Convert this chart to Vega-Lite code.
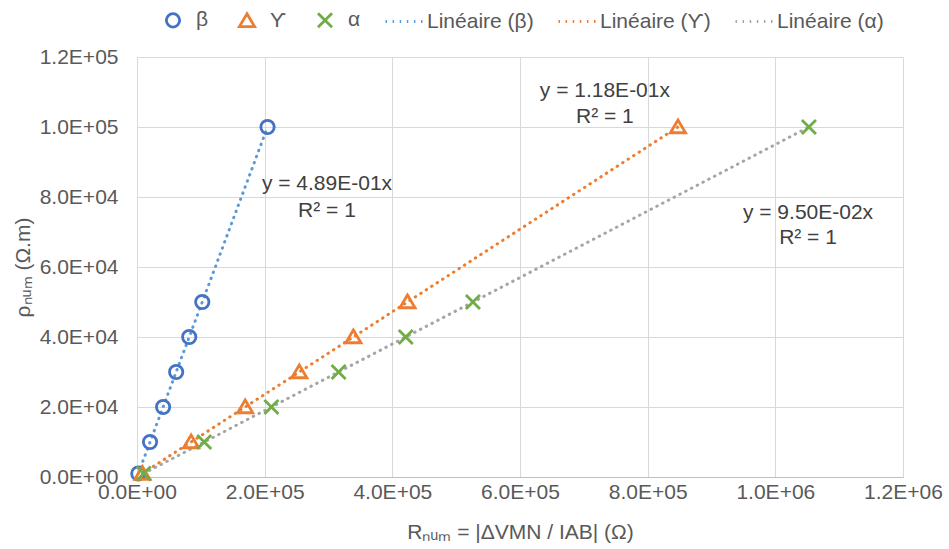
{
  "$schema": "https://vega.github.io/schema/vega-lite/v6.json",
  "width": 766,
  "height": 420,
  "autosize": {"type": "none"},
  "padding": {"left": 137, "top": 57, "right": 46, "bottom": 72},
  "background": "white",
  "config": {
    "view": {"stroke": null},
    "font": "Liberation Sans",
    "axis": {
      "labelFont": "Liberation Sans",
      "titleFont": "Liberation Sans",
      "labelFontSize": 21,
      "titleFontSize": 21,
      "labelColor": "#595959",
      "titleColor": "#595959",
      "titleFontWeight": "normal",
      "gridColor": "#d9d9d9",
      "gridWidth": 1,
      "ticks": false,
      "labelFlush": false,
      "labelOverlap": false
    },
    "legend": {
      "labelFont": "Liberation Sans",
      "labelFontSize": 21,
      "labelColor": "#595959"
    }
  },
  "datasets": {
    "pts": [
      {"serie": "β", "R": 2045, "rho": 1000},
      {"serie": "β", "R": 20450, "rho": 10000},
      {"serie": "β", "R": 40900, "rho": 20000},
      {"serie": "β", "R": 61350, "rho": 30000},
      {"serie": "β", "R": 81800, "rho": 40000},
      {"serie": "β", "R": 102250, "rho": 50000},
      {"serie": "β", "R": 204500, "rho": 100000},
      {"serie": "Ƴ", "R": 8475, "rho": 1000},
      {"serie": "Ƴ", "R": 84746, "rho": 10000},
      {"serie": "Ƴ", "R": 169492, "rho": 20000},
      {"serie": "Ƴ", "R": 254237, "rho": 30000},
      {"serie": "Ƴ", "R": 338983, "rho": 40000},
      {"serie": "Ƴ", "R": 423729, "rho": 50000},
      {"serie": "Ƴ", "R": 847458, "rho": 100000},
      {"serie": "α", "R": 10526, "rho": 1000},
      {"serie": "α", "R": 105263, "rho": 10000},
      {"serie": "α", "R": 210526, "rho": 20000},
      {"serie": "α", "R": 315789, "rho": 30000},
      {"serie": "α", "R": 421053, "rho": 40000},
      {"serie": "α", "R": 526316, "rho": 50000},
      {"serie": "α", "R": 1052632, "rho": 100000}
    ],
    "notes": [
      {"label": "y = 4.89E-01x", "R": 297650, "rho": 83700},
      {"label": "R² = 1", "R": 297650, "rho": 76000},
      {"label": "y = 1.18E-01x", "R": 733000, "rho": 110286},
      {"label": "R² = 1", "R": 733000, "rho": 102857},
      {"label": "y = 9.50E-02x", "R": 1051200, "rho": 75428},
      {"label": "R² = 1", "R": 1051200, "rho": 68286}
    ]
  },
  "encoding": {
    "x": {
      "field": "R", "type": "quantitative",
      "scale": {"domain": [0, 1200000], "nice": false, "zero": true},
      "axis": {
        "values": [0, 200000, 400000, 600000, 800000, 1000000, 1200000],
        "labelExpr": "replace(upper(format(datum.value, '.1e')), 'E+', 'E+0')",
        "domain": true, "domainColor": "#bfbfbf", "domainWidth": 1,
        "labelPadding": 4,
        "title": "Rₙᵤₘ = |ΔVMN / IAB| (Ω)",
        "titlePadding": 19
      }
    },
    "y": {
      "field": "rho", "type": "quantitative",
      "scale": {"domain": [0, 120000], "nice": false},
      "axis": {
        "values": [0, 20000, 40000, 60000, 80000, 100000, 120000],
        "labelExpr": "replace(upper(format(datum.value, '.1e')), 'E+', 'E+0')",
        "domain": false,
        "labelPadding": 19,
        "title": "ρₙᵤₘ (Ω.m)",
        "titlePadding": 6
      }
    }
  },
  "layer": [
    {
      "data": {"name": "pts"},
      "mark": {"type": "line", "strokeWidth": 3, "strokeDash": [0.5, 6], "strokeCap": "round"},
      "encoding": {
        "color": {
          "field": "serie", "type": "nominal",
          "scale": {"domain": ["β", "Ƴ", "α"], "range": ["#5B9BD5", "#ED7D31", "#A5A5A5"]},
          "legend": null
        },
        "order": {"field": "R"}
      }
    },
    {
      "data": {"name": "pts"},
      "mark": {"type": "point", "filled": false, "strokeWidth": 2.8, "size": 1369, "opacity": 1},
      "encoding": {
        "color": {
          "field": "serie", "type": "nominal",
          "scale": {
            "domain": ["β", "Ƴ", "α", "Linéaire (β)", "Linéaire (Ƴ)", "Linéaire (α)"],
            "range": ["#4472C4", "#ED7D31", "#70AD47", "#5B9BD5", "#ED7D31", "#A5A5A5"]
          },
          "legend": {
            "orient": "none", "legendX": 16, "legendY": -57,
            "direction": "horizontal", "title": null,
            "symbolStrokeWidth": 2.8, "symbolSize": 1369,
            "columnPadding": 18, "labelOffset": 3
          }
        },
        "shape": {
          "field": "serie", "type": "nominal",
          "scale": {
            "domain": ["β", "Ƴ", "α", "Linéaire (β)", "Linéaire (Ƴ)", "Linéaire (α)"],
            "range": [
              "M0.36,0A0.36,0.36 0 1,1 -0.36,0A0.36,0.36 0 1,1 0.36,0Z",
              "M0,-0.38L0.41,0.31L-0.41,0.31Z",
              "M-0.38,-0.38L0.38,0.38M0.38,-0.38L-0.38,0.38",
              "M-1,0h0.08M-0.616,0h0.08M-0.232,0h0.08M0.152,0h0.08M0.536,0h0.08M0.92,0h0.08",
              "M-1,0h0.08M-0.616,0h0.08M-0.232,0h0.08M0.152,0h0.08M0.536,0h0.08M0.92,0h0.08",
              "M-1,0h0.08M-0.616,0h0.08M-0.232,0h0.08M0.152,0h0.08M0.536,0h0.08M0.92,0h0.08"]
          },
          "legend": {
            "orient": "none", "legendX": 16, "legendY": -57,
            "direction": "horizontal", "title": null,
            "symbolStrokeWidth": 2.8, "symbolSize": 1369,
            "columnPadding": 18, "labelOffset": 3
          }
        }
      }
    },
    {
      "data": {"name": "notes"},
      "mark": {"type": "text", "align": "center", "baseline": "middle", "fontSize": 21, "color": "#404040", "font": "Liberation Sans"},
      "encoding": {"text": {"field": "label"}}
    }
  ],
  "resolve": {"scale": {"color": "independent", "shape": "independent"}}
}
